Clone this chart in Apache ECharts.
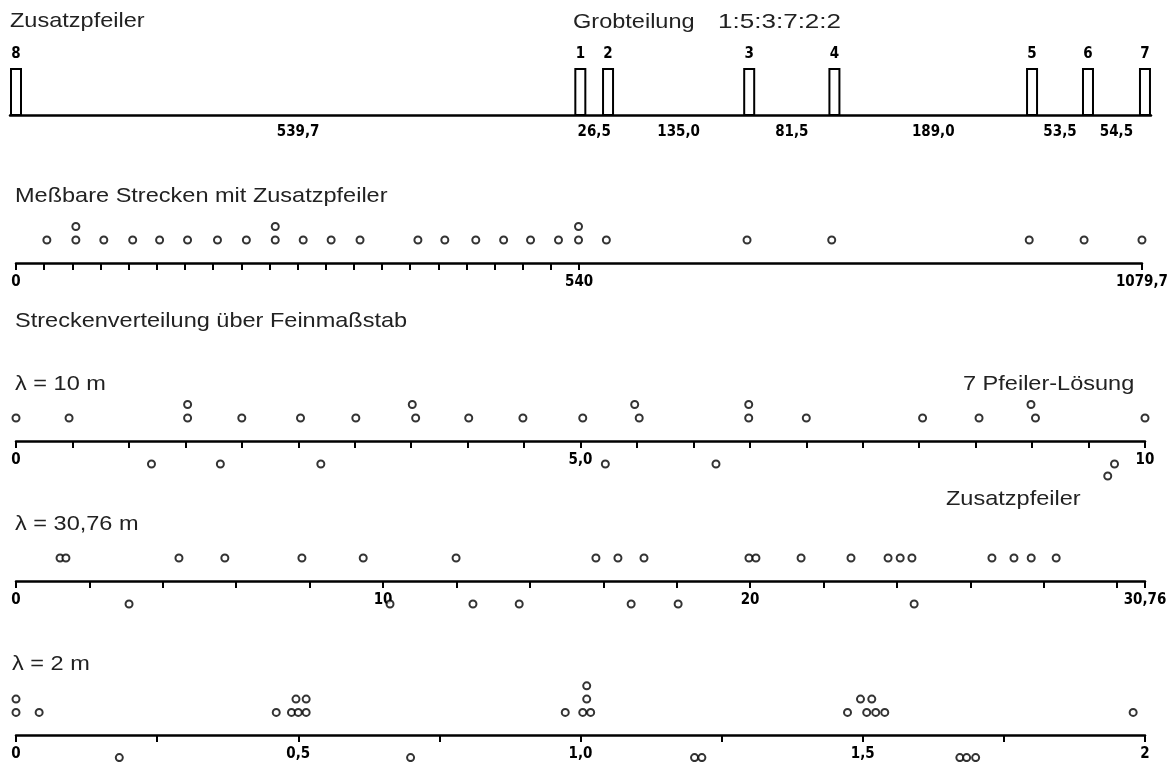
<!DOCTYPE html>
<html><head><meta charset="utf-8">
<script src="https://cdn.jsdelivr.net/npm/echarts@6/dist/echarts.min.js"></script>
<style>html,body{margin:0;padding:0;background:#fff}#c{width:1171px;height:762px}</style>
</head><body><div id="c"></div>
<script>
// ---------- DATA ----------
// Panel 1: Grobteilung (pillar positions in m along the line)
const pillarNames = ['8', '1', '2', '3', '4', '5', '6', '7'];
const pillarPos = [0, 539.7, 566.2, 701.2, 782.7, 971.7, 1025.2, 1079.7];
const spanLabels = ['539,7', '26,5', '135,0', '81,5', '189,0', '53,5', '54,5'];

// Panel 2: Meßbare Strecken mit Zusatzpfeiler
const measRow1 = [29.6, 57.4, 84.2, 111.9, 137.7, 164.5, 193.2, 220.9, 248.6, 275.4, 302.2, 329.9,
  385.4, 411.2, 440.9, 467.6, 493.4, 520.2, 539.4, 566.1, 701.0, 782.2, 971.6, 1024.2, 1079.7];
const measRow2 = [57.4, 248.6, 539.4];
const measLabelVals = [0, 540, 1079.7];
const measLabels = ['0', '540', '1079,7'];

// Panel 3: lambda = 10 m
const l10Above1 = [0, 0.47, 1.52, 2.0, 2.52, 3.01, 3.54, 4.01, 4.49, 5.02, 5.52, 6.49, 7.0, 8.03, 8.53, 9.03, 10];
const l10Above2 = [1.52, 3.51, 5.48, 6.49, 8.99];
const l10Below1 = [1.2, 1.81, 2.7, 5.22, 6.2, 9.73];
const l10Below2 = [9.67];
const l10LabelVals = [0, 5, 10];
const l10Labels = ['0', '5,0', '10'];

// Panel 4: lambda = 30,76 m
const l30Above1 = [1.20, 1.36, 4.44, 5.69, 7.79, 9.46, 11.99, 15.80, 16.40, 17.11, 19.97, 20.16, 21.39,
  22.75, 23.76, 24.09, 24.41, 26.59, 27.19, 27.66, 28.34];
const l30Below1 = [3.08, 10.19, 12.45, 13.71, 16.76, 18.04, 24.47];
const l30LabelVals = [0, 10, 20, 30.76];
const l30Labels = ['0', '10', '20', '30,76'];

// Panel 5: lambda = 2 m
const l2Above1 = [0, 0.041, 0.461, 0.488, 0.5, 0.514, 0.973, 1.004, 1.018, 1.473, 1.507, 1.523, 1.539, 1.979];
const l2Above2 = [0, 0.496, 0.514, 1.011, 1.496, 1.516];
const l2Above3 = [1.011];
const l2Below1 = [0.183, 0.699, 1.202, 1.215, 1.672, 1.684, 1.700];
const l2LabelVals = [0, 0.5, 1, 1.5, 2];
const l2Labels = ['0', '0,5', '1,0', '1,5', '2'];

// ---------- LAYOUT / STYLE ----------
const NUM_FONT = '"Liberation Sans Narrow","DejaVu Sans Condensed","Arial Narrow",sans-serif';
const TXT_FONT = '"Liberation Sans",Arial,Helvetica,sans-serif';
const GAP = 23, ROW = 13.5, BGAP = 23, BROW = 12, H = 60;
function yPos(level) { return level > 0 ? GAP + (level - 1) * ROW : -(BGAP + (-level - 1) * BROW); }
function pts(arr, level) { return arr.map(v => [v, yPos(level)]); }
function ticksStep(max, step, extra) {
  const t = []; for (let v = 0; v <= max + 1e-9; v += step) t.push(+v.toFixed(4));
  if (extra !== undefined) t.push(extra); return t;
}
const dotStyle = { color: '#fff', borderColor: '#000', borderWidth: 2 };

const grids = [], xAxes = [], yAxes = [], series = [];

// Panel 1
const BAR_W = 12;
const p1Max = pillarPos[pillarPos.length - 1] + 11.5;
grids.push({ left: 10, right: 20, top: 68, height: 47 });
xAxes.push({ gridIndex: 0, type: 'value', min: 0, max: p1Max,
  axisLine: { show: true, onZero: false, lineStyle: { color: '#000', width: 2.5 } },
  axisTick: { show: false }, axisLabel: { show: false }, splitLine: { show: false } });
yAxes.push({ gridIndex: 0, type: 'value', min: 0, max: 1, show: false });
series.push({ type: 'custom', xAxisIndex: 0, yAxisIndex: 0, clip: false,
  data: pillarPos.map((p, i) => [p, pillarNames[i]]),
  renderItem: function (params, api) {
    const b = api.coord([api.value(0), 0]);
    const t = api.coord([api.value(0), 1]);
    return { type: 'group', children: [
      { type: 'rect', shape: { x: b[0] + 1, y: t[1] + 1, width: BAR_W - 2, height: b[1] - t[1] - 1 },
        style: { fill: '#fff', stroke: '#000', lineWidth: 2 } },
      { type: 'text', style: { text: pillarNames[params.dataIndex], x: b[0] + BAR_W / 2, y: t[1] - 6,
        align: 'center', verticalAlign: 'bottom', font: 'bold 15px ' + NUM_FONT, fill: '#000' } }
    ] };
  } });
series.push({ type: 'custom', xAxisIndex: 0, yAxisIndex: 0, clip: false,
  data: spanLabels.map((s, i) => [pillarPos[i], pillarPos[i + 1]]),
  renderItem: function (params, api) {
    const a = api.coord([api.value(0), 0]);
    const c = api.coord([api.value(1), 0]);
    return { type: 'text', style: { text: spanLabels[params.dataIndex], x: (a[0] + c[0]) / 2 + BAR_W / 2,
      y: a[1] + 10, align: 'center', verticalAlign: 'top', font: 'bold 15px ' + NUM_FONT, fill: '#000' } };
  } });

// scatter panels
const panels = [
  { axisY: 263, max: 1079.7, ticks: ticksStep(540, 27, 1079.7), lv: measLabelVals, lb: measLabels,
    sets: [[measRow1, 1], [measRow2, 2]] },
  { axisY: 441, max: 10, ticks: ticksStep(10, 0.5), lv: l10LabelVals, lb: l10Labels,
    sets: [[l10Above1, 1], [l10Above2, 2], [l10Below1, -1], [l10Below2, -2]] },
  { axisY: 581, max: 30.76, ticks: ticksStep(30, 2, 30.76), lv: l30LabelVals, lb: l30Labels,
    sets: [[l30Above1, 1], [l30Below1, -1]] },
  { axisY: 736, max: 2, ticks: ticksStep(2, 0.25), lv: l2LabelVals, lb: l2Labels,
    sets: [[l2Above1, 1], [l2Above2, 2], [l2Above3, 3], [l2Below1, -1]] }
];
panels.forEach((p, k) => {
  const gi = k + 1;
  grids.push({ left: 16, right: 26, top: p.axisY - H, height: H });
  xAxes.push({ gridIndex: gi, type: 'value', min: 0, max: p.max, position: 'bottom',
    axisLine: { show: true, onZero: false, lineStyle: { color: '#000', width: 2.5 } },
    axisTick: { show: true, inside: false, length: 7, customValues: p.ticks, lineStyle: { color: '#000', width: 2 } },
    axisLabel: { show: true, customValues: p.lv, margin: 12, color: '#000', fontFamily: NUM_FONT,
      fontWeight: 'bold', fontSize: 15,
      formatter: function (v) { const i = p.lv.findIndex(x => Math.abs(x - v) < 1e-6); return i >= 0 ? p.lb[i] : ''; } },
    splitLine: { show: false } });
  yAxes.push({ gridIndex: gi, type: 'value', min: 0, max: H, show: false });
  p.sets.forEach(s => {
    series.push({ type: 'scatter', xAxisIndex: gi, yAxisIndex: gi, clip: false, symbol: 'circle',
      symbolSize: 7, itemStyle: dotStyle, silent: true, data: pts(s[0], s[1]) });
  });
});

function txt(text, x, y, size, sx) {
  return { type: 'text', x: x, y: y, scaleX: sx || 1.12, silent: true,
    style: { text: text, font: size + 'px ' + TXT_FONT, fill: '#222', verticalAlign: 'top' } };
}
const graphics = [
  txt('Zusatzpfeiler', 10, 11, 21),
  txt('Grobteilung', 573, 12, 21),
  txt('1:5:3:7:2:2', 718, 12, 21, 1.24),
  txt('Meßbare Strecken mit Zusatzpfeiler', 15, 186, 21),
  txt('Streckenverteilung über Feinmaßstab', 15, 311, 21),
  txt('λ = 10 m', 15, 374, 21),
  txt('7 Pfeiler-Lösung', 963, 374, 21),
  txt('Zusatzpfeiler', 946, 489, 21),
  txt('λ = 30,76 m', 15, 514, 21),
  txt('λ = 2 m', 12, 654, 21)
];

const chart = echarts.init(document.getElementById('c'), null, { renderer: 'canvas' });
chart.setOption({ animation: false, backgroundColor: '#fff', grid: grids, xAxis: xAxes, yAxis: yAxes,
  series: series, graphic: graphics });
</script></body></html>
